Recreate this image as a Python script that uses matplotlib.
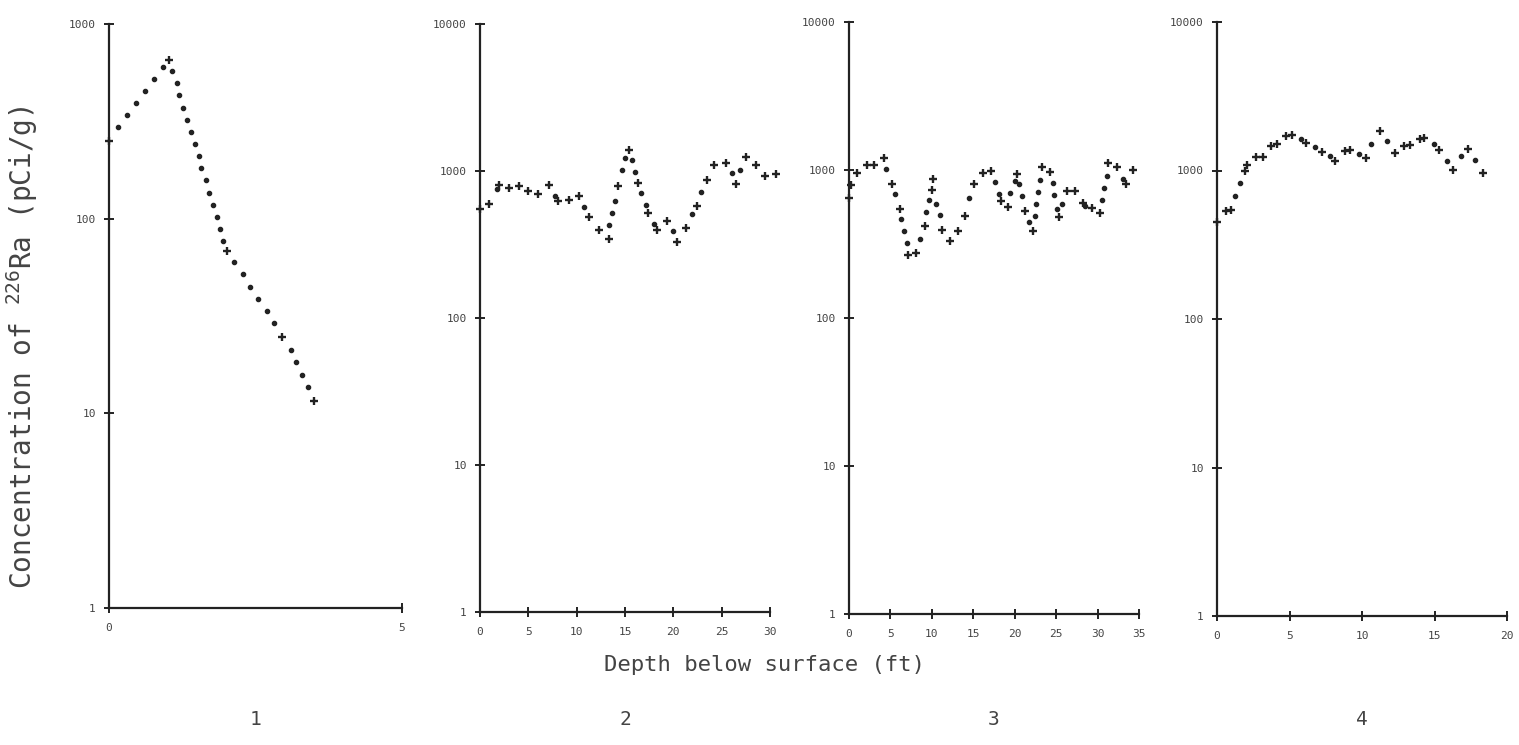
import numpy as np
import matplotlib
matplotlib.use("Agg")
import matplotlib.pyplot as plt

# depth (ft) and 226Ra concentration (pCi/g)
# "crs" = points plotted with a cross, "pts" = the dotted points between them
depth1_crs = [0, 1.02, 2.01, 2.96, 3.50]
conc1_crs = [251, 652, 68, 24.7, 11.6]
depth1_pts = [0.16, 0.31, 0.46, 0.61, 0.76, 0.92, 1.08, 1.16, 1.20, 1.27, 1.33, 1.40, 1.46, 1.53, 1.57, 1.65,
              1.71, 1.78, 1.84, 1.90, 1.94, 2.13, 2.28, 2.41, 2.55, 2.69, 2.82, 3.10, 3.19, 3.29, 3.39]
conc1_pts = [297, 341, 394, 455, 524, 604, 574, 498, 431, 372, 323, 279, 243, 210, 183, 158,
             136, 118, 102, 88.6, 76.9, 60, 51.7, 44.5, 38.6, 33.5, 29, 21.1, 18.3, 15.8, 13.7]

depth2_crs = [0, 0.97, 2.0, 3.04, 4.04, 4.97, 6.04, 7.18, 8.08, 9.19, 10.2, 11.26, 12.26, 13.3, 14.27, 15.4,
              16.37, 17.38, 18.34, 19.38, 20.41, 21.35, 22.45, 23.49, 24.25, 25.49, 26.53, 27.49, 28.53, 29.5, 30.6]
conc2_crs = [549, 600, 803, 766, 791, 735, 694, 807, 628, 638, 676, 484, 399, 347, 791, 1390,
             832, 515, 395, 459, 330, 411, 581, 865, 1099, 1140, 820, 1251, 1094, 929, 955]
depth2_pts = [1.8, 7.8, 10.8, 13.37, 13.65, 13.96, 14.64, 15.03, 15.72, 15.99, 16.68, 17.13, 18.0, 19.93,
              21.97, 22.9, 26.04, 26.87]
conc2_pts = [750, 676, 572, 427, 518, 628, 1011, 1220, 1183, 979, 705, 585, 436, 389, 512, 723, 969, 1016]

depth3_crs = [0, 0.3, 0.97, 2.18, 3.06, 4.18, 5.14, 6.19, 7.15, 8.04, 9.16, 10.05, 10.17, 11.17, 12.13,
              13.18, 13.98, 15.14, 16.22, 17.19, 18.3, 19.16, 20.27, 21.28, 22.2, 23.33, 24.2, 25.29,
              26.26, 27.31, 28.19, 29.33, 30.34, 31.29, 32.37, 33.43, 34.22]
conc3_crs = [642, 791, 955, 1083, 1083, 1205, 807, 548, 266, 274, 417, 731, 865, 394, 333,
             390, 486, 800, 951, 986, 618, 565, 945, 531, 390, 1050, 966, 483,
             720, 720, 599, 557, 512, 1114, 1040, 800, 1000]
depth3_pts = [4.5, 5.54, 6.27, 6.67, 6.95, 8.52, 9.33, 9.6, 10.53, 11.01, 14.5, 17.59, 18.16, 19.43, 19.99,
              20.47, 20.83, 21.72, 22.44, 22.52, 22.76, 23.05, 24.57, 24.77, 25.1, 25.7, 28.48, 30.54,
              30.81, 31.08, 33.1]
conc3_pts = [1012, 687, 468, 390, 319, 342, 520, 631, 593, 493, 642, 833, 687, 701, 842,
             800, 665, 442, 486, 589, 708, 860, 812, 676, 548, 593, 569, 625,
             758, 916, 869]

depth4_crs = [0, 0.65, 0.99, 1.96, 2.1, 2.72, 3.15, 3.73, 4.14, 4.79, 5.2, 6.14, 7.22, 8.17, 8.83, 9.19,
              10.26, 11.22, 12.3, 12.9, 13.29, 13.98, 14.3, 15.33, 16.3, 17.33, 18.34]
conc4_crs = [448, 530, 543, 989, 1094, 1227, 1241, 1452, 1500, 1702, 1729, 1537, 1322, 1165, 1355, 1378,
             1214, 1841, 1306, 1459, 1475, 1622, 1656, 1365, 1005, 1400, 964]
depth4_pts = [1.24, 1.57, 5.82, 6.79, 7.77, 9.82, 10.65, 11.72, 14.94, 15.84, 16.85, 17.79]
conc4_pts = [671, 819, 1638, 1437, 1247, 1294, 1514, 1573, 1500, 1165, 1260, 1183]

panel_names = ['1', '2', '3', '4']
x_max = [5, 30, 35, 20]
y_max = [1000, 10000, 10000, 10000]

series = [(depth1_crs, conc1_crs, depth1_pts, conc1_pts),
          (depth2_crs, conc2_crs, depth2_pts, conc2_pts),
          (depth3_crs, conc3_crs, depth3_pts, conc3_pts),
          (depth4_crs, conc4_crs, depth4_pts, conc4_pts)]

plt.rcParams['font.family'] = ['DejaVu Sans Mono']
plt.rcParams['mathtext.default'] = 'regular'

W, H = 1519, 745
fig = plt.figure(figsize=(W / 100, H / 100), dpi=100)

# axes boxes in pixels: left, right, top, bottom
boxes = [(109, 402, 24, 608), (480, 770, 24, 612), (849, 1139, 22, 614), (1217, 1507, 22, 616)]

ink = '#222222'
txt = '#444444'

for i, (l, r, t, b) in enumerate(boxes):
    ax = fig.add_axes([l / W, 1 - b / H, (r - l) / W, (b - t) / H])
    xc, yc, xp, yp = series[i]
    ax.plot(xp, yp, 'o', ms=3, color=ink, clip_on=False, zorder=3)
    ax.plot(xc, yc, '+', ms=6, mew=1.7, color=ink, clip_on=False, zorder=3)
    ax.set_yscale('log')
    ax.set_ylim(1, y_max[i])
    ax.set_xlim(0, x_max[i])
    ax.set_xticks(np.arange(0, x_max[i] + 1, 5))
    yt = [10 ** k for k in range(int(np.log10(y_max[i])) + 1)]
    ax.set_yticks(yt)
    ax.set_yticklabels([str(v) for v in yt])
    ax.yaxis.set_minor_locator(matplotlib.ticker.NullLocator())
    for s in ['top', 'right']:
        ax.spines[s].set_visible(False)
    for s in ['left', 'bottom']:
        ax.spines[s].set_color(ink)
        ax.spines[s].set_linewidth(1.6)
    ax.tick_params(axis='both', direction='inout', length=7, width=1.4, color=ink,
                   labelsize=8, labelcolor=txt)
    ax.tick_params(axis='y', pad=6)
    ax.tick_params(axis='x', pad=7)
    ax.patch.set_alpha(0)
    cx = (l + r) / 2 / W
    fig.text(cx, 0.034, panel_names[i], ha='center', va='center', fontsize=14, color=txt)

fig.text(0.503, 0.107, 'Depth below surface (ft)', ha='center', va='center', fontsize=16, color=txt)
fig.text(0.0145, 0.534, r'Concentration of $^{226}$Ra (pCi/g)', ha='center', va='center',
         rotation=90, fontsize=20, color=txt)

plt.savefig('out.png', dpi=100)
